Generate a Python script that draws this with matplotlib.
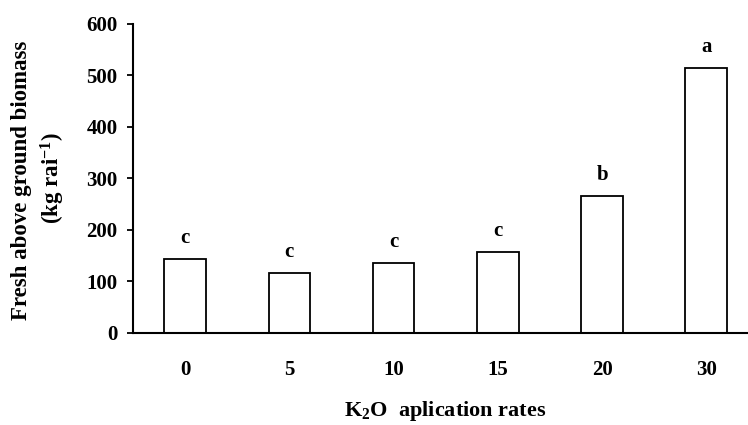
import matplotlib
matplotlib.use("Agg")
import matplotlib.pyplot as plt

rates = ["0", "5", "10", "15", "20", "30"]
biomass = [144, 116, 136, 157, 266, 515]
letters = ["c", "c", "c", "c", "b", "a"]

plt.rcParams["font.family"] = ["Liberation Serif", "DejaVu Serif"]
plt.rcParams["font.weight"] = "bold"
plt.rcParams["mathtext.fontset"] = "custom"
plt.rcParams["mathtext.rm"] = "Liberation Serif:bold"
plt.rcParams["mathtext.bf"] = "Liberation Serif:bold"
plt.rcParams["mathtext.it"] = "Liberation Serif:bold"
plt.rcParams["mathtext.default"] = "bf"

fig = plt.figure(figsize=(7.48, 4.25), dpi=100)
ax = fig.add_axes([133 / 748, 92.3 / 425, 1 - 133 / 748, 308.7 / 425])

x = list(range(len(rates)))
ax.bar(x, biomass, width=0.4, color="white", edgecolor="black", linewidth=1.3, zorder=2)

# significance letters above bars
for i in x:
    ax.annotate(letters[i], (i, biomass[i]), xytext=(0, 8), textcoords="offset points",
                ha="center", va="bottom", fontsize=15, fontweight="bold")

ax.set_xlim(-0.5, 5.4)
ax.set_ylim(0, 600)
ax.set_yticks(range(0, 601, 100))
ax.set_xticks(x)
ax.set_xticklabels(rates)

for side in ["top", "right"]:
    ax.spines[side].set_visible(False)
for side in ["left", "bottom"]:
    ax.spines[side].set_linewidth(1.5)

ax.tick_params(axis="y", direction="out", length=4, width=1.3, pad=7, labelsize=15)
ax.tick_params(axis="x", length=0, pad=20, labelsize=15)

# y label in two lines, placed like the original
fig.text(22 / 748, 1 - 180 / 425, "Fresh above ground biomass", rotation=90,
         ha="center", va="center", fontsize=16.5, fontweight="bold")
fig.text(53 / 748, 1 - 178 / 425, "(kg rai$^{-1}$)", rotation=90,
         ha="center", va="center", fontsize=16.5, fontweight="bold")

fig.text(445 / 748, 1 - 411 / 425, "K$_{2}$O  aplication rates",
         ha="center", va="center", fontsize=16, fontweight="bold")

fig.savefig("out.png", dpi=100)
